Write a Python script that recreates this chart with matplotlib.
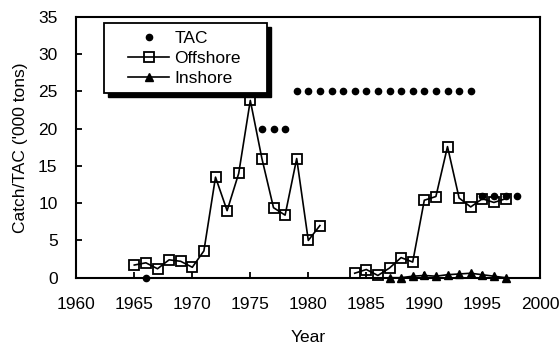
import matplotlib
matplotlib.use('Agg')
import matplotlib.pyplot as plt
import matplotlib.patches as patches
from matplotlib.transforms import offset_copy
from matplotlib.lines import Line2D

plt.rcParams['font.family'] = ['Liberation Sans', 'DejaVu Sans']
plt.rcParams['font.size'] = 12.5

# Total allowable catch (thousand tons)
tac_years = [1966, 1976, 1977, 1978] + list(range(1979, 1995)) + [1995, 1996, 1997, 1998]
tac_values = [0, 20, 20, 20] + [25] * 16 + [11, 11, 11, 11]

# Offshore catch, two separate periods
off_years_a = list(range(1965, 1982))
off_values_a = [1.7, 2.0, 1.2, 2.4, 2.2, 1.4, 3.6, 13.5, 9.0, 14.0, 23.8,
                16.0, 9.4, 8.4, 16.0, 5.0, 7.0]
off_years_b = list(range(1984, 1998))
off_values_b = [0.6, 1.1, 0.3, 1.3, 2.7, 2.1, 10.4, 10.9, 17.6, 10.7, 9.5,
                10.6, 10.1, 10.6]

# Inshore catch
in_years = list(range(1987, 1998))
in_values = [0.0, 0.0, 0.2, 0.3, 0.2, 0.4, 0.5, 0.6, 0.4, 0.2, 0.0]

fig = plt.figure(figsize=(5.6, 3.47), dpi=100)
ax = fig.add_axes([76.3 / 560, (347 - 277.7) / 347, 464 / 560, 260.7 / 347])

sq = dict(color='black', lw=1.2, marker='s', ms=7, mfc='none', mec='black', mew=1.3)
tri = dict(color='black', lw=1.2, marker='^', ms=6, mfc='black', mec='black')
dot = dict(ls='none', marker='o', ms=4.5, color='black')

ax.plot(off_years_a, off_values_a, clip_on=False, **sq)
ax.plot(off_years_b, off_values_b, clip_on=False, **sq)
ax.plot(in_years, in_values, clip_on=False, **tri)
ax.plot(tac_years, tac_values, clip_on=False, **dot)

ax.set_xlim(1960, 2000)
ax.set_ylim(0, 35)
ax.set_xticks(range(1960, 2001, 5))
ax.set_yticks(range(0, 36, 5))
ax.tick_params(direction='in', length=4, width=1.3)
ax.tick_params(axis='x', pad=14)
ax.tick_params(axis='y', pad=13.5)
for s in ax.spines.values():
    s.set_linewidth(1.5)

ax.set_xlabel('Year', labelpad=13)
ax.set_ylabel("Catch/TAC ('000 tons)", labelpad=7)

# legend box with solid black drop shadow
x0, y0, w, h = 0.0597, 0.7096, 0.3506, 0.2686
shadow = patches.Rectangle((x0, y0), w, h, facecolor='black', edgecolor='black',
                           transform=offset_copy(ax.transAxes, fig, x=4, y=-4, units='dots'),
                           zorder=5)
frame = patches.Rectangle((x0, y0), w, h, facecolor='white', edgecolor='black',
                          lw=1.3, transform=ax.transAxes, zorder=6)
ax.add_patch(shadow)
ax.add_patch(frame)

handles = [Line2D([], [], **dot), Line2D([], [], **sq), Line2D([], [], **tri)]
leg = ax.legend(handles, ['TAC', 'Offshore', 'Inshore'], loc='upper left',
                bbox_to_anchor=(0.092, 0.98), frameon=False, borderpad=0,
                handlelength=2.4, handletextpad=0.3, labelspacing=0.28)
leg.set_zorder(7)

fig.savefig('out.png', dpi=100)
